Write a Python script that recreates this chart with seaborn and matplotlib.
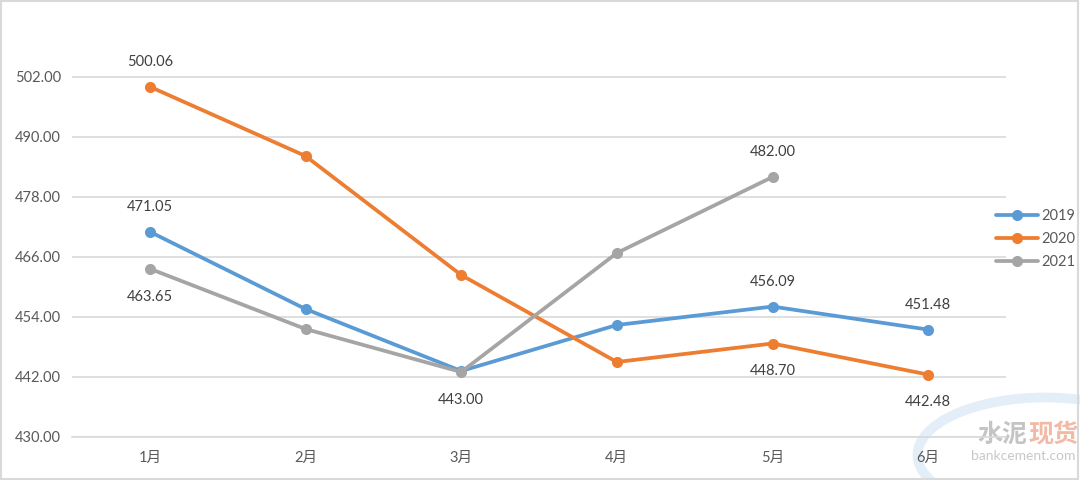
import numpy as np
import pandas as pd
import matplotlib.pyplot as plt
import seaborn as sns
from matplotlib.patches import Rectangle, Ellipse

# data
months = ['1月', '2月', '3月', '4月', '5月', '6月']
p2019 = [471.05, 455.6, 443.2, 452.4, 456.09, 451.48]
p2020 = [500.06, 486.2, 462.4, 445.0, 448.70, 442.48]
p2021 = [463.65, 451.6, 443.00, 466.8, 482.00, np.nan]
years = ['2019', '2020', '2021']

# labels shown on the chart: (year, month index, text, above?)
labels = [('2020', 0, '500.06', True), ('2019', 0, '471.05', True),
          ('2021', 0, '463.65', False), ('2021', 2, '443.00', False),
          ('2021', 4, '482.00', True), ('2019', 4, '456.09', True),
          ('2019', 5, '451.48', True), ('2020', 4, '448.70', False),
          ('2020', 5, '442.48', False)]

df = pd.DataFrame({'month': months * 3,
                   'price': p2019 + p2020 + p2021,
                   'year': [y for y in years for _ in months]})

sns.set_style('white')
plt.rcParams['font.family'] = ['Lato', 'Noto Sans CJK SC', 'DejaVu Sans']

colors = {'2019': '#5B9BD5', '2020': '#ED7D31', '2021': '#A5A5A5'}

fig = plt.figure(figsize=(10.8, 4.8), dpi=100)
ax = fig.add_axes([72 / 1080, 1 - 437 / 480, (1006 - 72) / 1080, (437 - 17) / 480])
ax.patch.set_alpha(0)

sns.lineplot(data=df, x='month', y='price', hue='year', style='year',
             markers=['o', 'o', 'o'], dashes=False, palette=colors,
             linewidth=2.7, markersize=8, markeredgewidth=0, ax=ax, legend=True)

ax.set_ylim(430, 514)
ax.set_yticks(np.arange(430, 503, 12))
ax.set_yticklabels(['%.2f' % v for v in np.arange(430, 503, 12)])
ax.set_xlim(-0.5, 5.5)
ax.set_xlabel('')
ax.set_ylabel('')
ax.grid(axis='y', color='#D9D9D9', linewidth=1.2)
for s in ['top', 'right', 'left']:
    ax.spines[s].set_visible(False)
ax.spines['bottom'].set_color('#D9D9D9')
ax.spines['bottom'].set_linewidth(1.2)
ax.set_xticks(np.arange(-0.5, 5.6, 1), minor=True)
ax.tick_params(axis='x', which='major', length=0, pad=10, labelsize=10.5, labelcolor='#595959')
ax.tick_params(axis='x', which='minor', length=6, color='#D9D9D9', width=1.2)
ax.tick_params(axis='y', length=0, pad=8, labelsize=10.5, labelcolor='#595959')

series = {'2019': p2019, '2020': p2020, '2021': p2021}
for yr, i, txt, above in labels:
    ax.annotate(txt, (i, series[yr][i]), xytext=(0, 18 if above else -20),
                textcoords='offset points', ha='center', va='center',
                fontsize=10.5, color='#404040', zorder=5)

h, l = ax.get_legend_handles_labels()
ax.get_legend().remove()
fig.legend(h, l, loc='center left', bbox_to_anchor=(993 / 1080, 1 - 239 / 480),
           frameon=False, fontsize=10.5, handlelength=2.9, handletextpad=0.2,
           labelspacing=0.6, labelcolor='#595959', borderaxespad=0, borderpad=0.2)

# watermark in the corner
fig.patches.append(Ellipse((1045 / 1080, 1 - 455 / 480), 255 / 1080, 115 / 480,
                           transform=fig.transFigure, facecolor='none',
                           edgecolor='#E3EEF8', linewidth=7, zorder=-1))
fig.text(1027 / 1080, 1 - 435 / 480, '水泥', ha='right', va='center', fontsize=18,
         color='#C4C4C4', fontweight='bold', family=['Noto Sans CJK SC'], zorder=-1)
fig.text(1028 / 1080, 1 - 435 / 480, '现货', ha='left', va='center', fontsize=18,
         color='#F2B9A5', fontweight='bold', family=['Noto Sans CJK SC'], zorder=-1)
fig.text(1075 / 1080, 1 - 456 / 480, 'bankcement.com', ha='right', va='center',
         fontsize=10, color='#C8C8C8', zorder=-1)

fig.patches.append(Rectangle((0.001, 0.002), 0.997, 0.995, transform=fig.transFigure,
                             fill=False, edgecolor='#D9D9D9', linewidth=1.5))

plt.savefig('out.png', dpi=100)
